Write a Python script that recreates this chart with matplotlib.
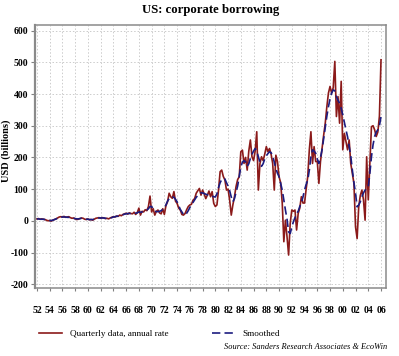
import numpy as np
import matplotlib
matplotlib.use('Agg')
import matplotlib.pyplot as plt

plt.rcParams['font.family'] = ['Liberation Serif', 'DejaVu Serif']

# quarterly values, 1952Q1 .. 2006Q1, USD billions (annual rate)
quarterly = [
    6, 7, 5, 6,          # 1952
    5, 4, 2, 0,          # 1953
    1, -1, 2, 4,         # 1954
    6, 9, 12, 13,        # 1955
    12, 14, 11, 12,      # 1956
    13, 10, 8, 9,        # 1957
    6, 4, 5, 7,          # 1958
    9, 8, 5, 4,          # 1959
    6, 3, 4, 2,          # 1960
    5, 8, 9, 10,         # 1961
    8, 10, 9, 7,         # 1962
    8, 6, 9, 11,         # 1963
    13, 12, 15, 14,      # 1964
    18, 16, 20, 22,      # 1965
    24, 21, 25, 23,      # 1966
    22, 27, 20, 26,      # 1967
    40, 18, 30, 28,      # 1968
    35, 32, 45, 78,      # 1969
    28, 38, 18, 30,      # 1970
    34, 25, 22, 38,      # 1971
    20, 48, 60, 87,      # 1972
    76, 71, 92, 62,      # 1973
    55, 40, 34, 20,      # 1974
    18, 23, 35, 45,      # 1975
    50, 52, 65, 70,      # 1976
    87, 95, 102, 81,     # 1977
    97, 85, 70, 81,      # 1978
    94, 76, 92, 55,      # 1979
    45, 50, 97, 155,     # 1980
    160, 140, 129, 97,   # 1981
    100, 65, 18, 50,     # 1982
    76, 108, 130, 139,   # 1983
    218, 223, 181, 200,  # 1984
    160, 220, 255, 202,  # 1985
    190, 220, 281, 97,   # 1986
    181, 202, 190, 210,  # 1987
    234, 218, 228, 210,  # 1988
    181, 97, 207, 187,   # 1989
    139, 120, 56, -66,   # 1990
    2, -50, -108, -8,    # 1991
    34, 30, 34, -29,     # 1992
    23, 40, 76, 56,      # 1993
    56, 100, 139, 224,   # 1994
    281, 181, 234, 187,  # 1995
    187, 118, 187, 230,  # 1996
    270, 308, 360, 403,  # 1997
    424, 403, 420, 503,  # 1998
    329, 392, 308, 440,  # 1999
    224, 276, 250, 224,  # 2000
    255, 181, 150, 118,  # 2001
    -19, -56, 44, 80,    # 2002
    97, 66, 2, 202,      # 2003
    66, 181, 297, 300,   # 2004
    287, 266, 280, 330,  # 2005
    508,                 # 2006
]

smoothed = [
    6, 6, 5, 5,
    5, 4, 3, 2,
    1, 1, 2, 4,
    6, 8, 10, 11,
    12, 12, 12, 11,
    11, 10, 9, 8,
    7, 6, 6, 7,
    8, 7, 6, 5,
    5, 4, 4, 4,
    5, 7, 8, 9,
    9, 9, 9, 8,
    8, 8, 9, 10,
    12, 13, 14, 15,
    16, 17, 19, 21,
    22, 23, 23, 23,
    23, 24, 24, 25,
    28, 27, 28, 30,
    32, 34, 38, 45,
    45, 38, 30, 29,
    29, 30, 32, 36,
    40, 50, 62, 70,
    75, 76, 74, 68,
    60, 48, 36, 28,
    20, 18, 24, 32,
    42, 50, 58, 66,
    74, 80, 85, 88,
    88, 86, 84, 82,
    81, 80, 78, 76,
    75, 85, 105, 120,
    130, 134, 132, 120,
    110, 95, 75, 60,
    70, 90, 110, 140,
    170, 185, 190, 185,
    172, 180, 197, 210,
    220, 228, 220, 202,
    185, 172, 180, 195,
    205, 212, 218, 215,
    205, 185, 165, 150,
    139, 118, 97, 65,
    34, 5, -35, -40,
    -20, -3, 10, 23,
    30, 45, 56, 75,
    97, 115, 128, 160,
    202, 224, 220, 213,
    195, 181, 200, 224,
    260, 297, 330, 360,
    385, 403, 413, 410,
    392, 380, 371, 355,
    334, 310, 287, 265,
    234, 205, 160, 120,
    87, 44, 50, 60,
    76, 88, 97, 102,
    107, 150, 202, 240,
    266, 280, 287, 300,
    329,
]

tick_years = list(range(1952, 2007, 2))
tick_labels = ['%02d' % (y % 100) for y in tick_years]
y_ticks = [-200, -100, 0, 100, 200, 300, 400, 500, 600]

t = 1952 + np.arange(len(quarterly)) / 4.0

fig = plt.figure(figsize=(3.99, 3.56), dpi=100)
ax = fig.add_axes([0.0877, 0.191, 0.880, 0.739])

l1, = ax.plot(t, quarterly, color='#8b1a1a', lw=1.2, label='Quarterly data, annual rate')
l2, = ax.plot(t, smoothed, color='#1c1c80', lw=1.2, ls=(0, (5, 2.5)), label='Smoothed')

ax.set_xlim(1951.7, 2006.8)
ax.set_ylim(-212, 618)
ax.set_xticks(tick_years)
ax.set_xticklabels(tick_labels, fontsize=7, fontweight='bold')
ax.set_yticks(y_ticks)
ax.set_yticklabels([str(v) for v in y_ticks], fontsize=7, fontweight='bold')
ax.tick_params(axis='x', length=2, pad=11, color='#808080')
ax.tick_params(axis='y', length=3, pad=2, color='#808080')
ax.grid(True, color='#cccccc', ls=(0, (1.5, 2)), lw=0.7)
for s in ax.spines.values():
    s.set_color('#8a8a8a')
    s.set_linewidth(1.1)
ax.spines['left'].set_linewidth(1.6)

ax.set_ylabel('USD (billions)', fontsize=7.5, fontweight='bold')
ax.yaxis.set_label_coords(-0.068, 0.52)
fig.text(0.527, 0.972, 'US: corporate borrowing', ha='center', va='center',
         fontsize=9.2, fontweight='bold')

fig.legend(handles=[l1, l2], loc='center left', bbox_to_anchor=(0.078, 0.062),
           ncol=2, frameon=False, fontsize=6.6, handlelength=2.5,
           handletextpad=0.8, columnspacing=4.8)
fig.text(0.97, 0.025, 'Source: Sanders Research Associates & EcoWin', ha='right',
         va='center', fontsize=6, style='italic')

fig.savefig('out.png', dpi=100)
